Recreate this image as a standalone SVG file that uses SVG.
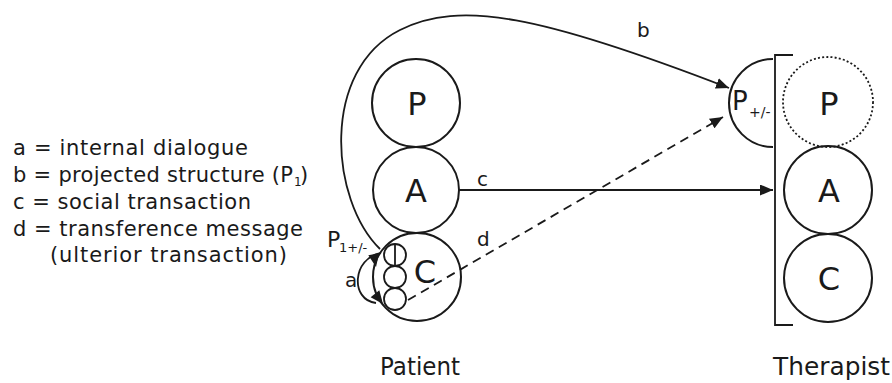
<svg xmlns="http://www.w3.org/2000/svg" xmlns:xlink="http://www.w3.org/1999/xlink" width="892" height="383" viewBox="0 0 892 383">
  <style>
    .ego { fill: none; stroke: #1a1a1a; stroke-width: 2; }
    .dotted { stroke-dasharray: 2 2.2; stroke-width: 1.8; }
    .small { fill: none; stroke: #1a1a1a; stroke-width: 1.8; }
    .line { fill: none; stroke: #1a1a1a; stroke-width: 1.8; }
    .dash { stroke-dasharray: 9 6; }
    text { font-family: "DejaVu Sans", "Liberation Sans", sans-serif; fill: #1a1a1a; }
    .big { font-size: 32px; text-anchor: middle; }
    .legend { font-size: 21px; }
    .lbl { font-size: 20px; }
    .caption { font-size: 25px; }
  </style>
  <defs>
    <marker id="arrow" viewBox="0 0 13 11" refX="13" refY="5.5" markerWidth="13" markerHeight="11" markerUnits="userSpaceOnUse" orient="auto">
      <path d="M0 0 L13 5.5 L0 11 Z" fill="#1a1a1a"/>
    </marker>
    <path id="head" d="M0 0 L-13 -5.5 L-13 5.5 Z" fill="#1a1a1a"/>
  </defs>

  <rect width="892" height="383" fill="#ffffff"/>

  <!-- legend -->
  <g id="legend" class="legend">
    <text x="13" y="155" textLength="235" lengthAdjust="spacing">a = internal dialogue</text>
    <text x="13" y="182" textLength="280" lengthAdjust="spacing">b = projected structure (P</text>
    <text x="294" y="186" font-size="12">1</text>
    <text x="300" y="182">)</text>
    <text x="13" y="209" textLength="238" lengthAdjust="spacing">c = social transaction</text>
    <text x="13" y="236" textLength="290" lengthAdjust="spacing">d = transference message</text>
    <text x="50" y="262" textLength="237" lengthAdjust="spacing">(ulterior transaction)</text>
  </g>

  <!-- patient ego states -->
  <g id="patient-parent">
    <circle class="ego" cx="416" cy="103" r="44"/>
    <text class="big" x="417" y="115">P</text>
  </g>
  <g id="patient-adult">
    <circle class="ego" cx="416" cy="190" r="43"/>
    <text class="big" x="416" y="202">A</text>
  </g>
  <g id="patient-child">
    <circle class="ego" cx="417" cy="277" r="44"/>
    <text class="big" x="425" y="283">C</text>
    <circle class="small" cx="395" cy="255" r="11"/>
    <line class="small" x1="395" y1="244" x2="395" y2="266"/>
    <circle class="small" cx="395" cy="277" r="11"/>
    <circle class="small" cx="395" cy="299" r="11"/>
  </g>
  <g id="patient-label">
    <text class="caption" x="380" y="375" textLength="80" lengthAdjust="spacingAndGlyphs">Patient</text>
  </g>

  <!-- internal dialogue loop -->
  <g id="internal-dialogue">
    <path class="line" d="M381 253 C352 258 350 300 376 303"/>
    <use xlink:href="#head" transform="translate(376 267) rotate(80)"/>
    <use xlink:href="#head" transform="translate(383 304) rotate(52)"/>
    <text class="lbl" x="345" y="287" font-size="19">a</text>
    <text x="327" y="247" font-size="22">P</text>
    <text x="339" y="252" font-size="13">1+/-</text>
  </g>

  <!-- therapist side -->
  <g id="therapist-bracket">
    <polyline class="line" points="793,55 775,55 775,325 793,325"/>
  </g>
  <g id="projected-parent">
    <path class="ego" d="M773 59 A44 44 0 0 0 773 147"/>
    <text x="732" y="110" font-size="26">P</text>
    <text x="749" y="117" font-size="14">+/-</text>
  </g>
  <g id="therapist-parent">
    <circle class="ego dotted" cx="828" cy="102" r="45"/>
    <text class="big" x="829" y="115">P</text>
  </g>
  <g id="therapist-adult">
    <circle class="ego" cx="828" cy="190" r="44"/>
    <text class="big" x="829" y="202">A</text>
  </g>
  <g id="therapist-child">
    <circle class="ego" cx="828" cy="278" r="44"/>
    <text class="big" x="829" y="290">C</text>
  </g>
  <g id="therapist-label">
    <text class="caption" x="773" y="375" textLength="117" lengthAdjust="spacingAndGlyphs">Therapist</text>
  </g>

  <!-- transactions -->
  <g id="connectors">
    <path class="line" d="M380 249 C330 200 320 70 400 30 C460 0 540 15 729 88" marker-end="url(#arrow)"/>
    <line class="line" x1="459" y1="190" x2="773" y2="190" marker-end="url(#arrow)"/>
    <line class="line dash" x1="408" y1="300" x2="723" y2="117" marker-end="url(#arrow)"/>
    <text class="lbl" x="637" y="37">b</text>
    <text class="lbl" x="477" y="186">c</text>
    <text class="lbl" x="477" y="246">d</text>
  </g>
</svg>
